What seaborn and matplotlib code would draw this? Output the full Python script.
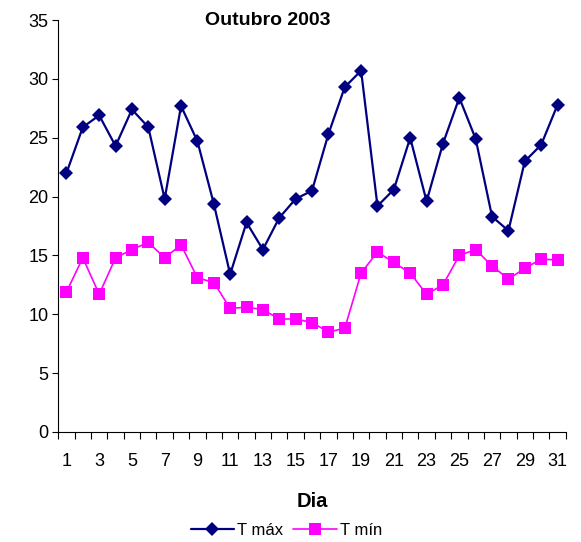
import numpy as np
import pandas as pd
import matplotlib
matplotlib.use('Agg')
import matplotlib.pyplot as plt
import seaborn as sns

# ============================================================
# DATA
# ============================================================

dias = list(range(1, 32))

t_max = [22.0, 25.9, 26.9, 24.3, 27.4, 25.9, 19.8, 27.7, 24.7, 19.4,
         13.4, 17.8, 15.5, 18.2, 19.8, 20.5, 25.3, 29.3, 30.7, 19.2,
         20.6, 25.0, 19.6, 24.5, 28.4, 24.9, 18.3, 17.1, 23.0, 24.4,
         27.8]

t_min = [11.9, 14.8, 11.7, 14.8, 15.5, 16.1, 14.8, 15.9, 13.1, 12.7,
         10.5, 10.6, 10.4, 9.6, 9.6, 9.3, 8.5, 8.8, 13.5, 15.3,
         14.4, 13.5, 11.7, 12.5, 15.0, 15.5, 14.1, 13.0, 13.9, 14.7,
         14.6]

series_names = ['T máx', 'T mín']
colors = ['#000080', '#FF00FF']

df = pd.DataFrame({
    'Dia': dias * 2,
    'Temp': t_max + t_min,
    'Serie': [series_names[0]] * len(dias) + [series_names[1]] * len(dias),
})

# ============================================================
# PLOT
# ============================================================

sns.set_style('white')
plt.rcParams['font.family'] = ['Liberation Sans', 'DejaVu Sans']
plt.rcParams['text.color'] = 'black'
plt.rcParams['axes.labelcolor'] = 'black'
plt.rcParams['xtick.color'] = 'black'
plt.rcParams['ytick.color'] = 'black'

fig = plt.figure(figsize=(5.81, 5.42), dpi=100)
ax = fig.add_axes([0.1003, 0.203, 0.8734, 0.760])

sns.lineplot(
    data=df, x='Dia', y='Temp', hue='Serie', style='Serie',
    palette=colors, markers=['D', 's'], dashes=False,
    markeredgewidth=0, ax=ax, legend=False
)
ax.lines[0].set_markersize(7.5)
ax.lines[0].set_linewidth(1.6)
ax.lines[1].set_markersize(8.5)
ax.lines[1].set_linewidth(1.2)

ax.set_xlim(0.5, 31.5)
ax.set_ylim(0, 35)
ax.set_yticks(np.arange(0, 36, 5))
ax.set_xticks(dias[::2])
ax.set_xticks(np.arange(0.5, 32, 1), minor=True)
ax.tick_params(axis='x', which='major', bottom=True, length=0, pad=15,
               labelsize=13)
ax.tick_params(axis='x', which='minor', bottom=True, length=5, width=0.8,
               direction='out', color='black')
ax.tick_params(axis='y', which='major', left=True, length=4, width=0.8,
               direction='out', color='black', labelsize=13, pad=3)

for side in ['top', 'right']:
    ax.spines[side].set_visible(False)
for side in ['left', 'bottom']:
    ax.spines[side].set_color('black')
    ax.spines[side].set_linewidth(0.8)

ax.set_xlabel('Dia', fontsize=14.5, fontweight='bold', labelpad=16)
ax.set_ylabel('')

fig.text(0.461, 0.962, 'Outubro 2003', ha='center', va='center',
         fontsize=14, fontweight='bold')

handles = [
    plt.Line2D([], [], color=colors[0], marker='D', markersize=7, lw=1.6,
               markeredgewidth=0),
    plt.Line2D([], [], color=colors[1], marker='s', markersize=8, lw=1.2,
               markeredgewidth=0),
]
fig.legend(handles, series_names, loc='center', bbox_to_anchor=(0.493, 0.022),
           ncol=2, frameon=False, fontsize=12, handlelength=2.6,
           handletextpad=0.2, columnspacing=0.6)

plt.savefig('out.png', dpi=100)
